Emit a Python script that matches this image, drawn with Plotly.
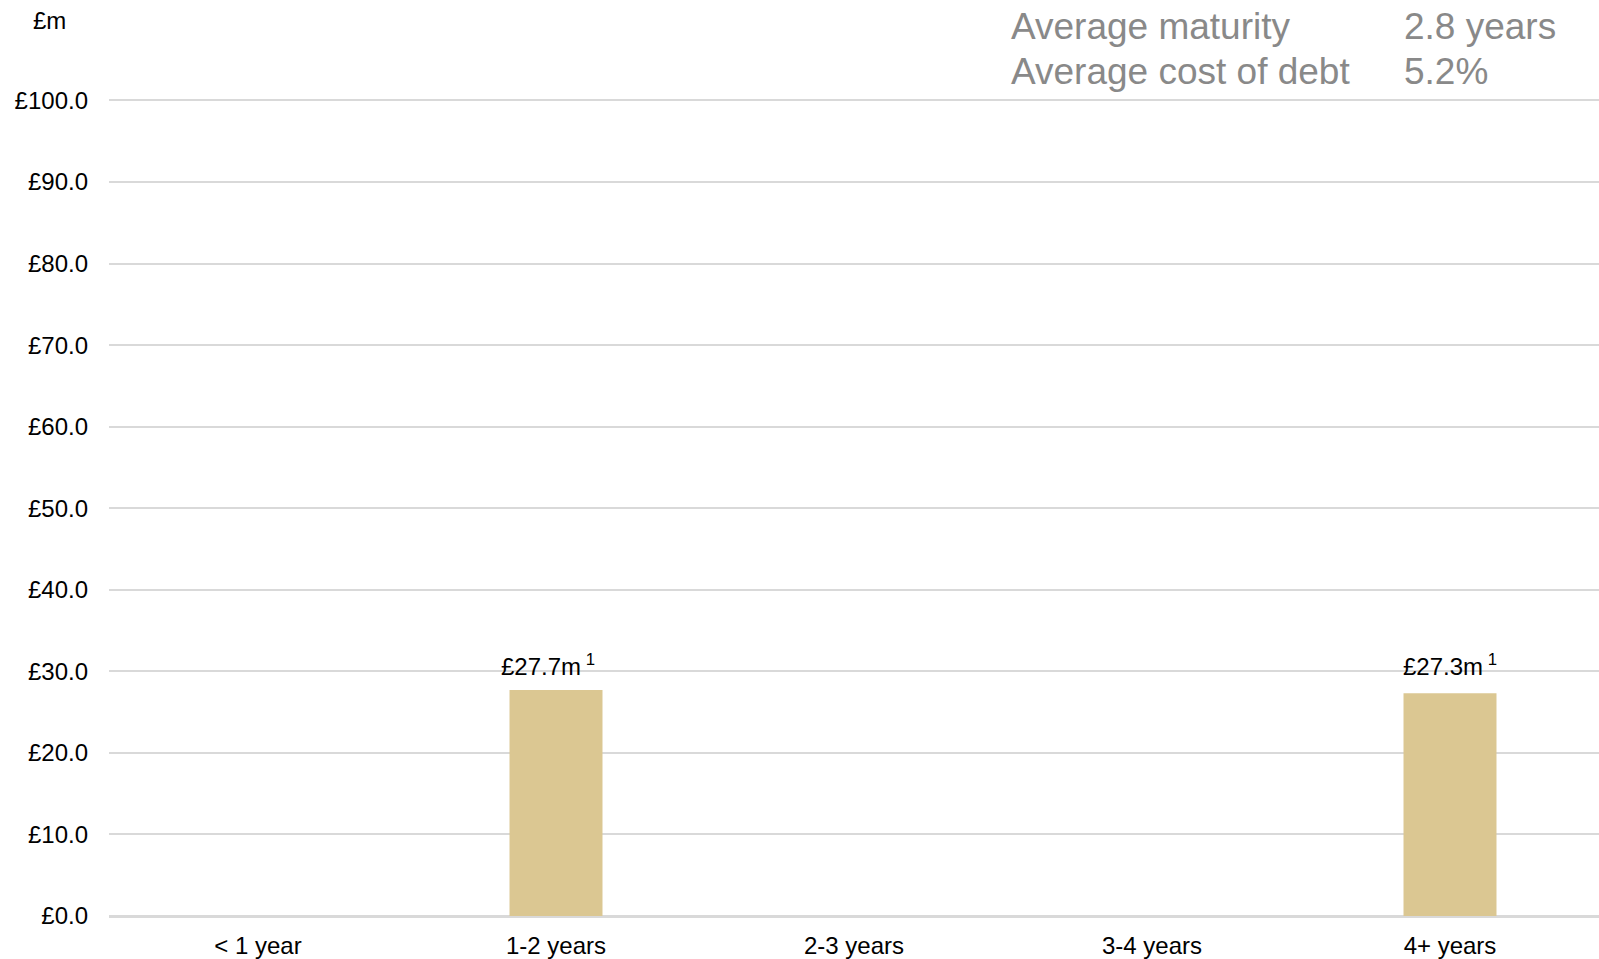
import plotly.graph_objects as go

# Debt maturity profile
categories = ["< 1 year", "1-2 years", "2-3 years", "3-4 years", "4+ years"]
debt_m = [0.0, 27.7, 0.0, 0.0, 27.3]
y_ticks = [0, 10, 20, 30, 40, 50, 60, 70, 80, 90, 100]
y_tick_labels = [f"£{v:.1f}" for v in y_ticks]

summary_labels = ["Average maturity", "Average cost of debt"]
summary_values = ["2.8 years", "5.2%"]

FONT = "Liberation Sans, Arial, sans-serif"
BAR_COLOR = "#DBC792"
GRID = "#D9D9D9"
GREY_TEXT = "#898989"

W, H = 1599, 959
ML, MR, MT, MB = 109, 0, 98, 43
pw, ph = W - ML - MR, H - MT - MB


def px_to_paper(x, y):
    return (x - ML) / pw, 1 - (y - MT) / ph


fig = go.Figure(
    go.Bar(
        x=categories,
        y=debt_m,
        marker=dict(color=BAR_COLOR, line=dict(width=0)),
        width=0.312,
        hoverinfo="skip",
    )
)

# value labels above the non-empty bars, on a common level
label_level = max(debt_m)
label_xshift = {"1-2 years": -8, "4+ years": 0}
for cat, v in zip(categories, debt_m):
    if v > 0:
        fig.add_annotation(
            x=cat, y=label_level, xref="x", yref="y",
            text=f"£{v:.1f}m<sup> 1</sup>",
            showarrow=False, xanchor="center", yanchor="middle",
            yshift=25, xshift=label_xshift.get(cat, 0),
            font=dict(family=FONT, size=24, color="#000000"),
        )

# unit label
ux, uy = px_to_paper(50, 21)
fig.add_annotation(
    x=ux, y=uy, xref="paper", yref="paper", text="£m", showarrow=False,
    xanchor="center", yanchor="middle",
    font=dict(family=FONT, size=24, color="#000000"),
)

# summary block, top right
row_y = [26, 71]
for lbl, val, yy in zip(summary_labels, summary_values, row_y):
    lx, ly = px_to_paper(1009, yy)
    vx, _ = px_to_paper(1402, yy)
    fig.add_annotation(
        x=lx, y=ly, xref="paper", yref="paper", text=lbl, showarrow=False,
        xanchor="left", yanchor="middle",
        font=dict(family=FONT, size=37, color=GREY_TEXT),
    )
    fig.add_annotation(
        x=vx, y=ly, xref="paper", yref="paper", text=val, showarrow=False,
        xanchor="left", yanchor="middle",
        font=dict(family=FONT, size=37, color=GREY_TEXT),
    )

fig.update_layout(
    width=W, height=H,
    margin=dict(l=ML, r=MR, t=MT, b=MB, pad=0),
    paper_bgcolor="white", plot_bgcolor="white",
    showlegend=False,
    font=dict(family=FONT, size=24, color="#000000"),
    bargap=0.688,
)
fig.update_xaxes(
    showgrid=False, showline=False, ticks="", zeroline=False,
    tickfont=dict(family=FONT, size=24, color="#000000"),
    ticklabelstandoff=13,
)
fig.update_yaxes(
    range=[0, 100.3], tickvals=y_ticks, ticktext=y_tick_labels,
    showgrid=True, gridcolor=GRID, gridwidth=1.5,
    zeroline=True, zerolinecolor=GRID, zerolinewidth=2.5,
    showline=False, ticks="",
    tickfont=dict(family=FONT, size=24, color="#000000"),
    ticklabelstandoff=20,
)

fig.write_html("out.html")
